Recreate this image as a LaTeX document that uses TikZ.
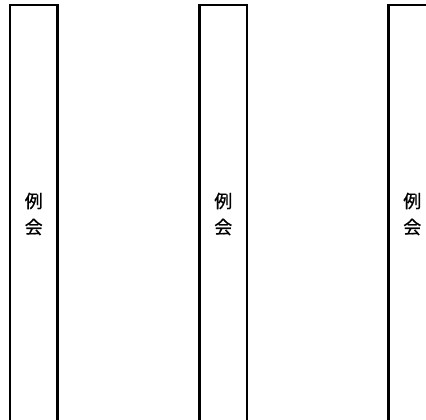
\documentclass[tikz,border=0pt]{standalone}
\usepackage{fontspec}
\newfontfamily\cjk[FakeBold=0.6]{Noto Sans CJK JP}
\usetikzlibrary{positioning}
\tikzset{
  meeting/.style = {draw, line width=2.2pt, rectangle, inner sep=0pt,
                    minimum width=47.5pt, minimum height=418pt, align=center,
                    font=\cjk\fontsize{18}{26}\selectfont}
}

\begin{document}
\begin{tikzpicture}[x=1pt,y=-1pt]
\useasboundingbox (0,0) rectangle (426,420);
\clip (0,0) rectangle (426,420);

% three meeting columns, cut off at the bottom
\node[meeting] (m1) at (33.75,214) {例\\会};
\node[meeting] (m2) at (223.25,214) {例\\会};
\node[meeting] (m3) at (412.25,214) {例\\会};

\end{tikzpicture}
\end{document}
